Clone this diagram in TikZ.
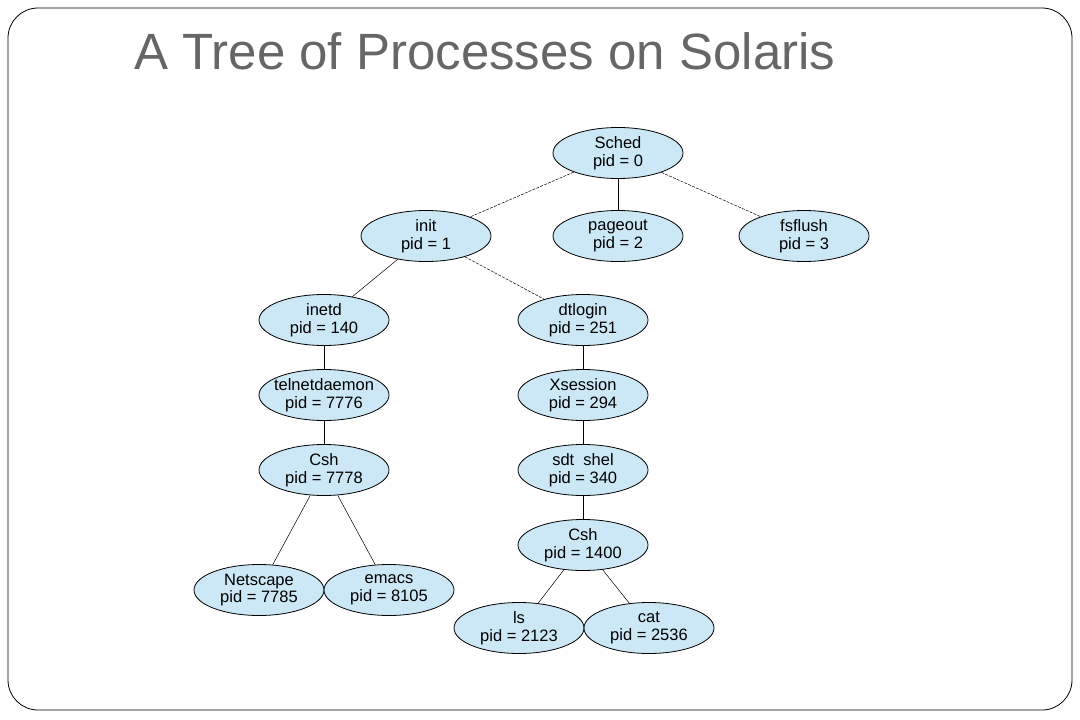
\documentclass[tikz,border=0pt]{standalone}
\usepackage{fontspec}
\setmainfont{Liberation Sans}
\usetikzlibrary{shapes.geometric}
\begin{document}
\begin{tikzpicture}[x=1pt,y=-1pt,
  proc/.style={ellipse, draw=black, line width=0.8pt, fill=procblue,
    minimum width=130pt, minimum height=51pt, inner xsep=-10pt, inner ysep=0pt,
    align=center, font=\fontsize{16.5}{17.5}\selectfont},
  edge/.style={draw=black, line width=0.5pt},
  dedge/.style={draw=black, line width=0.5pt, dash pattern=on 3pt off 1.2pt}]
\definecolor{procblue}{RGB}{204,232,247}
\useasboundingbox (0,0) rectangle (1080,720);
\draw[line width=0.8pt, rounded corners=30pt] (8,8) rectangle (1072,710);
\node[anchor=base west, inner sep=0pt, text=black!60, font=\fontsize{51}{55}\selectfont] (title) at (134,69) {A Tree of Processes on Solaris};
\node[proc] (sched) at (618,153) {Sched\\pid = 0};
\node[proc] (init) at (426,236) {init\\pid = 1};
\node[proc] (pageout) at (618,236) {pageout\\pid = 2};
\node[proc] (fsflush) at (804,236) {fsflush\\pid = 3};
\node[proc] (inetd) at (324,320) {inetd\\pid = 140};
\node[proc] (dtlogin) at (583,320) {dtlogin\\pid = 251};
\node[proc] (telnet) at (324,395) {telnetdaemon\\pid = 7776};
\node[proc] (xsession) at (583,395) {Xsession\\pid = 294};
\node[proc] (cshA) at (324,470) {Csh\\pid = 7778};
\node[proc] (sdt) at (583,470) {sdt\ \ shel\\pid = 340};
\node[proc] (cshB) at (583,545) {Csh\\pid = 1400};
\node[proc] (netscape) at (259,590) {Netscape\\pid = 7785};
\node[proc] (emacs) at (389,590) {emacs\\pid = 8105};
\node[proc] (ls) at (519,628) {ls\\pid = 2123};
\node[proc] (cat) at (649,628) {cat\\pid = 2536};
\draw[dedge] (sched) -- (init);
\draw[edge] (sched) -- (pageout);
\draw[dedge] (sched) -- (fsflush);
\draw[edge] (init) -- (inetd);
\draw[dedge] (init) -- (dtlogin);
\draw[edge] (inetd) -- (telnet);
\draw[edge] (telnet) -- (cshA);
\draw[edge] (dtlogin) -- (xsession);
\draw[edge] (xsession) -- (sdt);
\draw[edge] (sdt) -- (cshB);
\draw[edge] (cshA) -- (netscape);
\draw[edge] (cshA) -- (emacs);
\draw[edge] (cshB) -- (ls);
\draw[edge] (cshB) -- (cat);
\end{tikzpicture}
\end{document}
